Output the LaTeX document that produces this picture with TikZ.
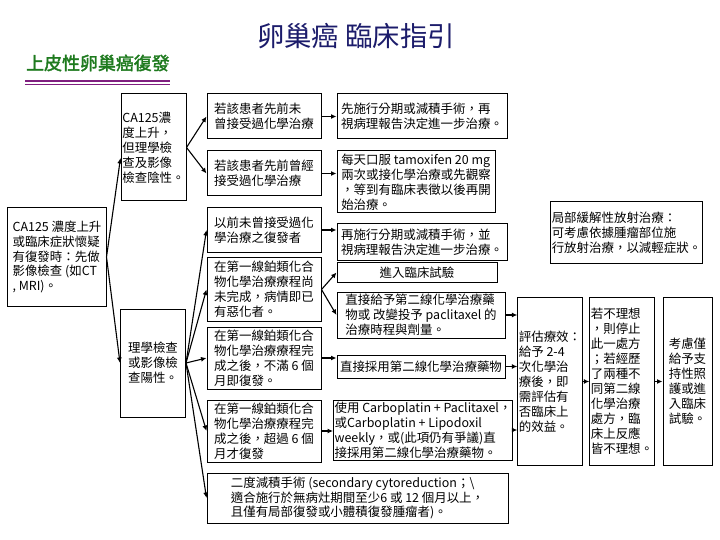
\documentclass[tikz,border=0pt]{standalone}
\usepackage{fontspec}
\setmainfont{Noto Sans CJK TC}
\newfontfamily\headfont{Noto Sans CJK TC}[FakeBold=2]
\usetikzlibrary{arrows.meta,positioning,calc}
\definecolor{TitleNavy}{HTML}{1C1C6B}
\definecolor{HeadGreen}{HTML}{1E7A1E}
\definecolor{RulePurple}{HTML}{7F1F7F}
\tikzset{
guidebox/.style={draw=black, line width=1bp, align=left, inner sep=1bp},
leftbox/.style={guidebox, minimum width=65bp},
midbox/.style={guidebox, minimum width=114bp},
rightbox/.style={guidebox, minimum width=168bp},
evalbox/.style={guidebox, minimum height=167bp},
guidearrow/.style={-{Latex[length=5.5bp,width=5bp]}, line width=1.1bp, draw=black}
}
\begin{document}
\begin{tikzpicture}[x=1bp, y=-1bp, font=\fontsize{12.5}{15}\selectfont, >=Latex]
  \useasboundingbox[fill=white] (0,0) rectangle (720,540);
  \node[font=\fontsize{27.5}{30}\selectfont, text=TitleNavy] (title) at (356,36) {卵巢癌 臨床指引};
  \node[font=\headfont\fontsize{18}{20}\selectfont, text=HeadGreen, anchor=west, inner sep=0pt] (subtitle) at (26,63) {上皮性卵巢癌復發};
  \draw[RulePurple, line width=1.8bp] (25,81) -- (170,81) (25,84.5) -- (170,84.5);
  \node[guidebox, minimum width=98bp, minimum height=98bp] (start) at (57,257) {CA125 濃度上升\\或臨床症狀懷疑\\有復發時：先做\\影像檢查 (如CT\\, MRI)。};
  \node[leftbox, minimum height=107bp] (neg) at (153.5,147.5) {CA125濃\\度上升，\\但理學檢\\查及影像\\檢查陰性。};
  \node[leftbox, minimum height=108bp] (pos) at (153,363) {理學檢查\\或影像檢\\查陽性。};
  \node[midbox, minimum height=45bp] (nochemo) at (264,116.5) {若該患者先前未\\曾接受過化學治療};
  \node[midbox, minimum height=45bp] (chemo) at (264,173.5) {若該患者先前曾經\\接受過化學治療};
  \node[midbox, minimum height=44bp] (naive) at (264,230) {以前未曾接受過化\\學治療之復發者};
  \node[midbox, minimum height=63bp] (during) at (264,289.5) {在第一線鉑類化合\\物化學治療療程尚\\未完成，病情即已\\有惡化者。};
  \node[midbox, minimum height=62bp] (early) at (264,358) {在第一線鉑類化合\\物化學治療療程完\\成之後，不滿 6 個\\月即復發。};
  \node[midbox, minimum height=62bp] (late) at (264,431) {在第一線鉑類化合\\物化學治療療程完\\成之後，超過 6 個\\月才復發};
  \node[guidebox, minimum width=170bp, minimum height=45bp] (surgery) at (422,116.5) {先施行分期或減積手術，再\\視病理報告決定進一步治療。};
  \node[guidebox, minimum width=158bp, minimum height=62bp] (tamox) at (416,182) {每天口服 tamoxifen 20 mg\\兩次或接化學治療或先觀察\\，等到有臨床表徵以後再開\\始治療。};
  \node[guidebox, minimum width=170bp, minimum height=36bp] (restage) at (422,242) {再施行分期或減積手術，並\\視病理報告決定進一步治療。};
  \node[guidebox, minimum width=160bp, minimum height=19bp] (trial) at (417,272.5) {進入臨床試驗};
  \node[rightbox, minimum height=46bp] (second) at (421,315) {直接給予第二線化學治療藥\\物或 改變投予 paclitaxel 的\\治療時程與劑量。};
  \node[rightbox, minimum height=23bp] (direct) at (421,366.5) {直接採用第二線化學治療藥物};
  \node[guidebox, minimum width=172bp, minimum height=60bp] (carbo) at (423,430) {使用 Carboplatin + Paclitaxel，\\或Carboplatin + Lipodoxil\\weekly，或(此項仍有爭議)直\\接採用第二線化學治療藥物。};
  \node[guidebox, minimum width=149bp, minimum height=61bp] (radio) at (626.5,232.5) {局部緩解性放射治療：\\可考慮依據腫瘤部位施\\行放射治療，以減輕症狀。};
  \node[evalbox, minimum width=62bp] (assess) at (550,381.5) {評估療效：\\給予 2-4\\次化學治\\療後，即\\需評估有\\否臨床上\\的效益。};
  \node[evalbox, minimum width=60bp] (stop) at (622,381.5) {若不理想\\，則停止\\此一處方\\；若經歷\\了兩種不\\同第二線\\化學治療\\處方，臨\\床上反應\\皆不理想。};
  \node[evalbox, minimum width=49bp] (support) at (687.5,381.5) {考慮僅\\給予支\\持性照\\護或進\\入臨床\\試驗。};
  \node[guidebox, minimum width=301bp, minimum height=50bp] (cyto) at (357.5,498) {二度減積手術 (secondary cytoreduction；\textbackslash\\適合施行於無病灶期間至少6 或 12 個月以上，\\且僅有局部復發或小體積復發腫瘤者)。};
  \draw[guidearrow] (start.east) -- ([yshift=-10.5bp]neg.west);
  \draw[guidearrow] (start.east) -- (pos.west);
  \draw[guidearrow] (neg.east) -- (nochemo.west);
  \draw[guidearrow] (neg.east) -- (chemo.west);
  \foreach \target in {naive,during,early,late,cyto}
    \draw[guidearrow] (pos.east) -- (\target.west);
  \draw[guidearrow] (nochemo.east) -- (nochemo.east -| surgery.west);
  \draw[guidearrow] (chemo.east) -- (chemo.east -| tamox.west);
  \draw[guidearrow] (naive.east) -- (naive.east -| restage.west);
  \draw[guidearrow] (during.east) -- (trial.west);
  \draw[guidearrow] (during.east) -- (second.west);
  \draw[guidearrow] (early.east) -- (early.east -| direct.west);
  \draw[guidearrow] (late.east) -- (late.east -| carbo.west);
  \draw[guidearrow] (second.east) -- (second.east -| assess.west);
  \draw[guidearrow] (direct.east) -- (direct.east -| assess.west);
  \draw[guidearrow] (carbo.east) -- (carbo.east -| assess.west);
  \draw[guidearrow] (assess.east) -- (assess.east -| stop.west);
  \draw[guidearrow] (stop.east) -- (stop.east -| support.west);
\end{tikzpicture}
\end{document}
